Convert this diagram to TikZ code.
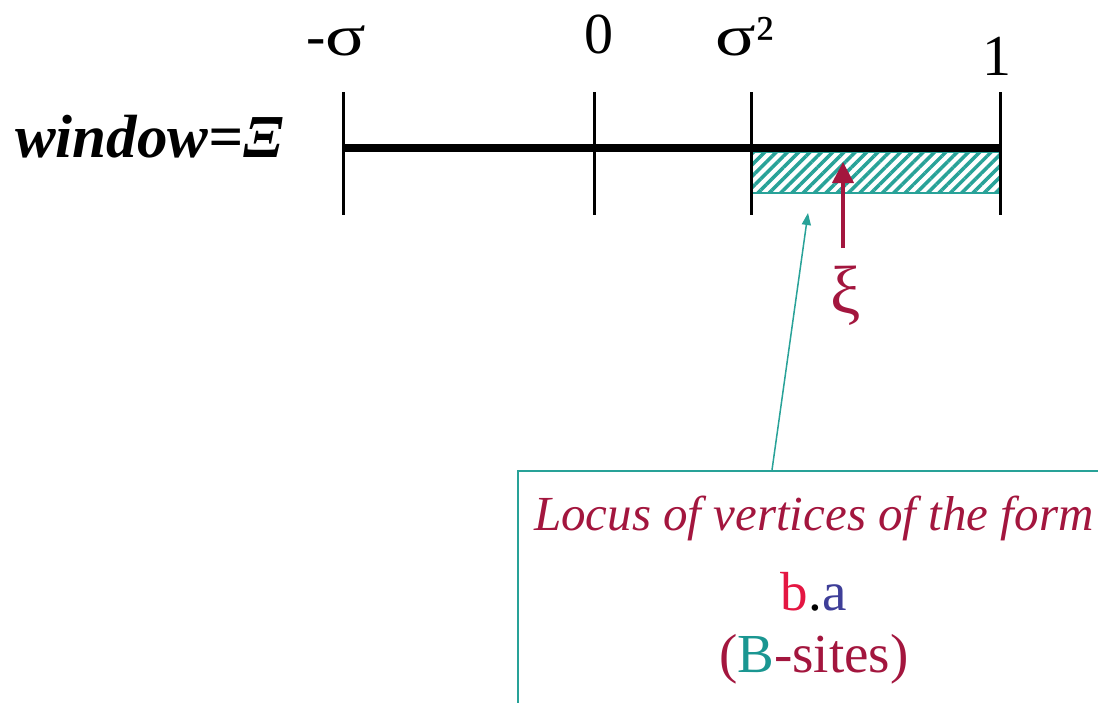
\documentclass[tikz,border=0pt]{standalone}
\usepackage{fontspec}
\setmainfont{Liberation Serif}
\usetikzlibrary{arrows.meta,patterns.meta}

\definecolor{crimson}{RGB}{163,22,62}
\definecolor{brightred}{RGB}{228,22,66}
\definecolor{violetblue}{RGB}{62,62,152}
\definecolor{siteteal}{RGB}{26,150,145}
\definecolor{hatchteal}{RGB}{40,162,152}

\newcommand{\labelfont}{\fontsize{58}{60}\selectfont}
\newcommand{\boxfont}{\fontsize{49}{80}\selectfont}
\newcommand{\bigline}{\fontsize{55}{80}\selectfont}

\tikzset{
axistick/.style={line width=3pt},
ticklabel/.style={anchor=base,inner sep=0pt,font=\labelfont},
xiarrow/.style={crimson,line width=4pt,-{Triangle[length=21pt,width=21pt]}},
locarrow/.style={hatchteal,line width=1.5pt,-{Triangle[length=12pt,width=9pt]}}
}

\begin{document}
\begin{tikzpicture}[x=1pt,y=-1pt]
\useasboundingbox (0,0) rectangle (1098,702);
\clip (0,0) rectangle (1098,702);

% window label
\node[anchor=base west,inner sep=0pt,font=\fontsize{61}{61}\selectfont\bfseries\itshape] (win) at (15,157) {window=Ξ};

% hatched part
\draw[hatchteal,line width=1.5pt,
pattern={Lines[angle=45,distance=8pt,line width=3.5pt]},pattern color=hatchteal]
(751,152) rectangle (1000,193);

% axis and ticks
\draw[line width=8pt] (343,148) -- (1000,148);
\foreach \x in {343,594,751,1000}
\draw[axistick] (\x,92) -- (\x,215);

\node[ticklabel] (msig) at (336,55) {-\scalebox{1.3}[1]{σ}};
\node[ticklabel] (zero) at (599,53) {0};
\node[ticklabel] (sigsq) at (745,55) {\scalebox{1.3}[1]{σ}²};
\node[ticklabel] (one) at (997,75) {1};

% xi
\coordinate (xitip) at (843,162);
\node[crimson,anchor=north,inner sep=0pt,outer ysep=18pt,font=\fontsize{68}{70}\selectfont] (xi) at (846,248) {ξ};
\draw[xiarrow] (xi.north -| xitip) -- (xitip);

% locus box
\coordinate (loctip) at (808,213);
\node[draw=hatchteal,line width=1.5pt,anchor=north west,minimum width=592pt,
inner xsep=0pt,inner ysep=25pt,align=center,text=crimson,font=\boxfont] (locus) at (517,470)
{\itshape Locus of vertices of the form\\
\bigline{\color{brightred}b}{\color{black}.}{\color{violetblue}a}\\[-18pt]
\bigline({\color{siteteal}B}-sites)};
\draw[locarrow] ([xshift=255pt]locus.north west) -- (loctip);

\end{tikzpicture}
\end{document}
